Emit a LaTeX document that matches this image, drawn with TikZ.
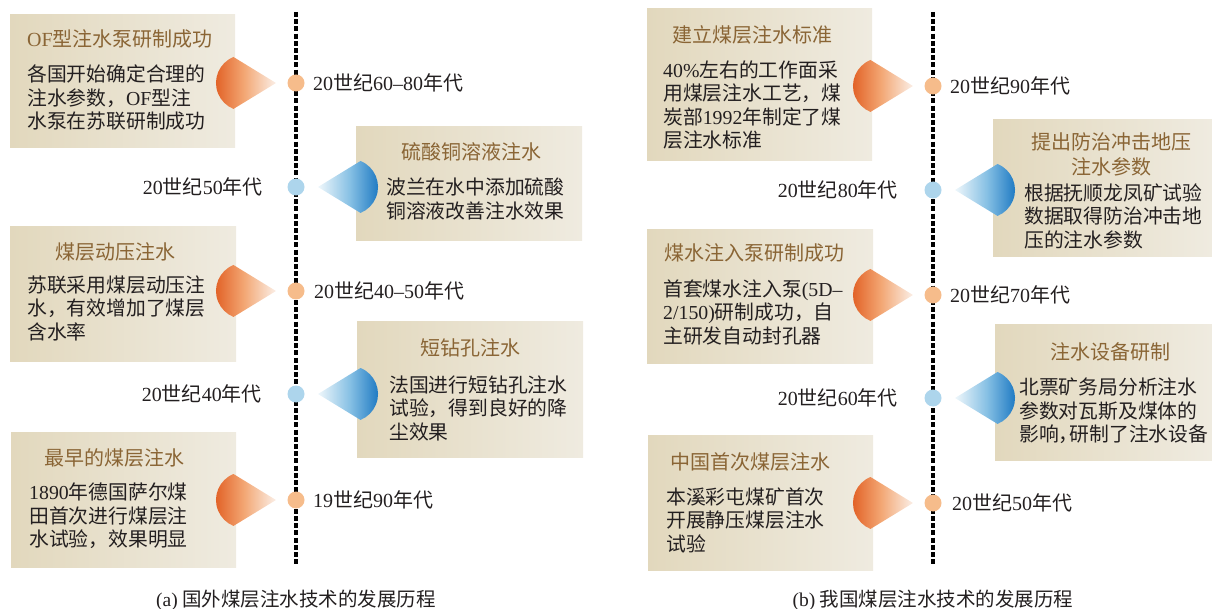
\documentclass[tikz,border=0pt]{standalone}
\usepackage{fontspec}
\setmainfont{Noto Sans CJK SC}
\newfontfamily\latf{Liberation Serif}
\usetikzlibrary{fit}
\definecolor{boxL}{HTML}{E2D8BD}
\definecolor{boxR}{HTML}{EFEBE0}
\definecolor{ttlC}{HTML}{8A6535}
\definecolor{txtC}{HTML}{231F20}
\definecolor{dotO}{HTML}{F6BC8B}
\definecolor{dotB}{HTML}{ADD5EC}
\definecolor{oD}{HTML}{E05A1E}
\definecolor{oM}{HTML}{F3A774}
\definecolor{oL}{HTML}{FBEFE7}
\definecolor{bD}{HTML}{1372BF}
\definecolor{bM}{HTML}{86C0E4}
\definecolor{bL}{HTML}{EFF7FB}
\newcommand\ocone[2]{\shade[ocone] (#1,-#2) -- ++(-42.5,26) arc[start angle=112,end angle=248,radius=28pt] -- cycle;}
\newcommand\bcone[2]{\shade[bcone] (#1,-#2) -- ++(42.5,26) arc[start angle=68,end angle=-68,radius=28pt] -- cycle;}
\begin{document}
\begin{tikzpicture}[x=1pt,y=1pt,
  box/.style={rectangle, inner sep=0pt, left color=boxL, right color=boxR, draw=none},
  ttl/.style={text=ttlC, font=\fontsize{20}{24.5}\selectfont, inner sep=0pt, align=center},
  body/.style={text=txtC, font=\fontsize{19.8}{23.5}\selectfont, align=left, inner sep=0pt, anchor=west},
  date/.style={text=txtC, font=\fontsize{20}{24}\selectfont, inner sep=0pt},
  captxt/.style={text=txtC, font=\fontsize{19.5}{24}\selectfont, inner sep=0pt},
  odot/.style={circle, fill=dotO, minimum size=17pt, inner sep=0pt},
  bdot/.style={circle, fill=dotB, minimum size=17pt, inner sep=0pt},
  ocone/.style={left color=oD, right color=oL, middle color=oM},
  bcone/.style={left color=bL, right color=bD, middle color=bM},
  tl/.style={line width=3.2pt, dash pattern=on 5pt off 2.2pt, color=black}]
\useasboundingbox (0,0) rectangle (1212,-609);

% ---------- boxes (left panel) ----------
\node[box, fit={(10,-15) (235,-148)}] (a1) {};
\node[box, fit={(356,-127) (582,-241)}] (a2) {};
\node[box, fit={(10,-227) (236,-361)}] (a3) {};
\node[box, fit={(357,-322) (583,-457)}] (a4) {};
\node[box, fit={(11,-432) (236,-567)}] (a5) {};
% ---------- boxes (right panel) ----------
\node[box, fit={(647,-9) (872,-161)}] (b1) {};
\node[box, fit={(993,-120) (1212,-257)}] (b2) {};
\node[box, fit={(647,-230) (873,-363)}] (b3) {};
\node[box, fit={(995,-325) (1212,-460)}] (b4) {};
\node[box, fit={(648,-435) (873,-570)}] (b5) {};

% ---------- cones ----------
\ocone{276}{83}
\bcone{318}{187}
\ocone{276}{291}
\bcone{318}{394}
\ocone{276}{500}
\ocone{913}{86}
\bcone{955}{190}
\ocone{913}{295}
\bcone{955}{398}
\ocone{913}{503}

% ---------- timelines ----------
\coordinate (aTop) at (296,-12);
\coordinate (aBot) at (296,-564);
\coordinate (bTop) at (933,-12);
\coordinate (bBot) at (933,-565);
\draw[tl] (aTop) -- (aBot);
\draw[tl] (bTop) -- (bBot);

% ---------- dots ----------
\node[odot] (da1) at (296,-83) {};
\node[bdot] (da2) at (296,-187) {};
\node[odot] (da3) at (296,-291) {};
\node[bdot] (da4) at (296,-394) {};
\node[odot] (da5) at (296,-500) {};
\node[odot] (db1) at (933,-86) {};
\node[bdot] (db2) at (933,-190) {};
\node[odot] (db3) at (933,-295) {};
\node[bdot] (db4) at (933,-398) {};
\node[odot] (db5) at (933,-503) {};

% ---------- date labels ----------
\node[date, anchor=west] (la1) at (313,-83) {{\latf 20}世纪{\latf 60–80}年代};
\node[date, anchor=east] (la2) at (263,-187) {{\latf 20}世纪{\latf 50}年代};
\node[date, anchor=west] (la3) at (314,-291) {{\latf 20}世纪{\latf 40–50}年代};
\node[date, anchor=east] (la4) at (262,-394) {{\latf 20}世纪{\latf 40}年代};
\node[date, anchor=west] (la5) at (313,-500) {{\latf 19}世纪{\latf 90}年代};
\node[date, anchor=west] (lb1) at (950,-86) {{\latf 20}世纪{\latf 90}年代};
\node[date, anchor=east] (lb2) at (898,-190) {{\latf 20}世纪{\latf 80}年代};
\node[date, anchor=west] (lb3) at (950,-295) {{\latf 20}世纪{\latf 70}年代};
\node[date, anchor=east] (lb4) at (898,-398) {{\latf 20}世纪{\latf 60}年代};
\node[date, anchor=west] (lb5) at (952,-503) {{\latf 20}世纪{\latf 50}年代};

% ---------- titles ----------
\node[ttl, anchor=west] (ta1) at (27,-39) {{\latf OF}型注水泵研制成功};
\node[ttl] (ta2) at (471,-152) {硫酸铜溶液注水};
\node[ttl] (ta3) at (115,-252) {煤层动压注水};
\node[ttl] (ta4) at (470,-348) {短钻孔注水};
\node[ttl] (ta5) at (114,-458) {最早的煤层注水};
\node[ttl] (tb1) at (752,-35) {建立煤层注水标准};
\node[ttl] (tb2) at (1111,-154.5) {提出防治冲击地压\\注水参数};
\node[ttl, anchor=west] (tb3) at (664,-253) {煤水注入泵研制成功};
\node[ttl] (tb4) at (1110,-352) {注水设备研制};
\node[ttl] (tb5) at (750,-462) {中国首次煤层注水};

% ---------- body texts ----------
\node[body] (xa1) at (27,-97.5) {各国开始确定合理的\\注水参数，{\latf OF}型注\\水泵在苏联研制成功};
\node[body] (xa2) at (386,-199) {波兰在水中添加硫酸\\铜溶液改善注水效果};
\node[body] (xa3) at (27,-308) {苏联采用煤层动压注\\水，有效增加了煤层\\含水率};
\node[body] (xa4) at (389,-408) {法国进行短钻孔注水\\试验，得到良好的降\\尘效果};
\node[body] (xa5) at (29,-516) {{\latf 1890}年德国萨尔煤\\田首次进行煤层注\\水试验，效果明显};
\node[body] (xb1) at (663,-105) {{\latf 40\%}左右的工作面采\\用煤层注水工艺，煤\\炭部{\latf 1992}年制定了煤\\层注水标准};
\node[body] (xb2) at (1024,-216) {根据抚顺龙凤矿试验\\数据取得防治冲击地\\压的注水参数};
\node[body] (xb3) at (663,-312) {首套煤水注入泵{\latf (5D–}\\{\latf 2/150)}研制成功，自\\主研发自动封孔器};
\node[body] (xb4) at (1019,-411) {北票矿务局分析注水\\参数对瓦斯及煤体的\\影响，\kern-9pt 研制了注水设备};
\node[body] (xb5) at (666,-520) {本溪彩屯煤矿首次\\开展静压煤层注水\\试验};

% ---------- captions ----------
\node[captxt] (ca) at (296,-600) {{\latf (a)} 国外煤层注水技术的发展历程};
\node[captxt] (cb) at (933,-600) {{\latf (b)} 我国煤层注水技术的发展历程};
\end{tikzpicture}
\end{document}
